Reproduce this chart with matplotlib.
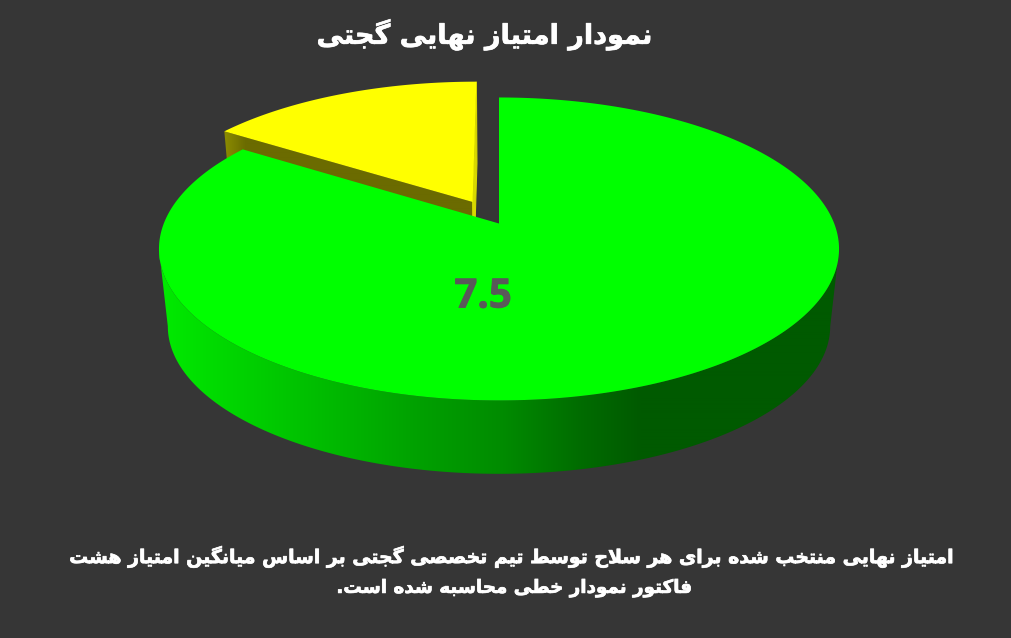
import unicodedata

import numpy as np
import matplotlib
matplotlib.use('Agg')
import matplotlib.pyplot as plt
import matplotlib.patheffects as pe
from matplotlib.patches import Polygon

values = [7.5, 1.4]
value_labels = ['7.5', '']
title = 'نمودار امتیاز نهایی گجتی'
caption_lines = [
    'امتیاز نهایی منتخب شده برای هر سلاح توسط تیم تخصصی گجتی بر اساس میانگین امتیاز هشت',
    'فاکتور نمودار خطی محاسبه شده است.',
]

BG = '#363636'
GREEN_TOP = '#00ff00'
YELLOW_TOP = '#ffff00'
TILT = 0.168

# wall shading by pixel x
wall_x = [159, 250, 350, 420, 500, 580, 640, 839]
wall_g = [235, 208, 180, 160, 140, 108, 90, 90]
cut_x = [226, 246]
cut_y = [138, 107]

# table of arabic presentation forms, read from unicodedata
forms = {}
for code in list(range(0xFB50, 0xFDFF)) + list(range(0xFE70, 0xFEFF)):
    parts = unicodedata.decomposition(chr(code)).split()
    if len(parts) == 2 and parts[0] in ('<isolated>', '<final>', '<initial>', '<medial>'):
        forms.setdefault(chr(int(parts[1], 16)), {}).setdefault(parts[0], chr(code))


def shape(text):
    # matplotlib has no bidi or shaping, so give it visual order glyphs
    text = text.replace('لا', '\ufefb')
    out = []
    for i, ch in enumerate(text):
        if ch == '\ufefb':
            prev = text[i - 1] if i > 0 else ' '
            joined = '<initial>' in forms.get(prev, {})
            out.append('\ufefc' if joined else '\ufefb')
            continue
        if ch not in forms:
            out.append(ch)
            continue
        prev = text[i - 1] if i > 0 else ' '
        nxt = text[i + 1] if i + 1 < len(text) else ' '
        join_prev = '<initial>' in forms.get(prev, {})
        join_next = '<final>' in forms[ch] and (nxt in forms or nxt == '\ufefb') and '<initial>' in forms[ch]
        if join_prev and join_next:
            key = '<medial>'
        elif join_prev:
            key = '<final>'
        elif join_next:
            key = '<initial>'
        else:
            key = '<isolated>'
        out.append(forms[ch].get(key, ch))
    return ''.join(out)[::-1]


def project(u, v, level=0.0):
    # pie plane to pixels, the reference pie is in perspective
    w = 1 + TILT * v
    scale = 1 - 0.026 * level
    x0, y0 = 499.0, 223.5 + 78 * level
    return x0 + scale * 335.2 * u / w, y0 - scale * 147.2 * v / w


def rim(start, stop, n=240):
    t = np.radians(np.linspace(start, stop, n))
    return np.sin(t), np.cos(t)


def shaded(points, xs, levels, rgb):
    # horizontal gradient clipped to a polygon
    x0, x1 = min(p[0] for p in points), max(p[0] for p in points)
    y0, y1 = min(p[1] for p in points), max(p[1] for p in points)
    grid = np.linspace(x0, x1, int(x1 - x0) * 2 + 2)
    g = np.interp(grid, xs, levels) / 255
    img = np.zeros((1, len(grid), 3))
    for i, on in enumerate(rgb):
        img[0, :, i] = g * on
    im = ax.imshow(img, extent=(x0, x1, y1, y0), aspect='auto', interpolation='bilinear')
    patch = Polygon(points, fc='none', ec='none', transform=ax.transData)
    ax.add_patch(patch)
    im.set_clip_path(patch)


angles = np.array(values) / sum(values) * 360
green_end = angles[0]

fig = plt.figure(figsize=(10.11, 6.38), dpi=100, facecolor=BG)
ax = fig.add_axes([0, 0, 1, 1])
ax.axis('off')

# yellow slice, pulled out along its bisector
mid = np.radians(green_end + angles[1] / 2)
du, dv = 0.17 * np.sin(mid), 0.17 * np.cos(mid)
u, v = rim(green_end, 360)
u, v = u + du, v + dv
left_top = project(u[0], v[0])
left_low = project(u[0], v[0], 1)
right_top = project(u[-1], v[-1])
right_low = project(u[-1], v[-1], 1)
apex_top = project(du, dv)
apex_low = project(du, dv, 1)
ax.add_patch(Polygon([apex_top, right_top, right_low, apex_low], fc='#d8d800', ec='#d8d800', lw=0.8))
shaded([apex_top, left_top, left_low, apex_low], cut_x, cut_y, (1, 1, 0))
x, y = project(u, v)
ax.add_patch(Polygon(np.r_[[apex_top], np.c_[x, y]], fc=YELLOW_TOP, ec='none'))

# green wall, between the two widest points of the rim
u, v = rim(0, green_end, 600)
xt, yt = project(u, v)
xb, yb = project(u, v, 1)
front = v <= -TILT
outline = list(zip(xt[front], yt[front])) + list(zip(xb[front][::-1], yb[front][::-1]))
shaded(outline, wall_x, wall_g, (0, 1, 0))

# green top
ax.add_patch(Polygon(np.r_[[project(0, 0)], np.c_[xt, yt]], fc=GREEN_TOP, ec='none'))

ax.text(483, 297, value_labels[0], color='#595959', fontsize=29, fontweight='bold',
        family='Open Sans', ha='center', va='center',
        path_effects=[pe.withStroke(linewidth=0.6, foreground='#595959')])

heavy = [pe.withStroke(linewidth=0.5, foreground='white')]
ax.text(485, 35, shape(title), color='white', fontsize=19.5, fontweight='bold',
        family='DejaVu Sans', ha='center', va='center', path_effects=heavy)
ax.text(514, 557, shape(caption_lines[0]), color='white', fontsize=13.6, fontweight='bold',
        family='DejaVu Sans', ha='center', va='center', path_effects=heavy)
ax.text(515, 588, shape(caption_lines[1]), color='white', fontsize=13.2, fontweight='bold',
        family='DejaVu Sans', ha='center', va='center', path_effects=heavy)

ax.set_xlim(0, 1011)
ax.set_ylim(638, 0)

fig.savefig('out.png', dpi=100, facecolor=BG)
